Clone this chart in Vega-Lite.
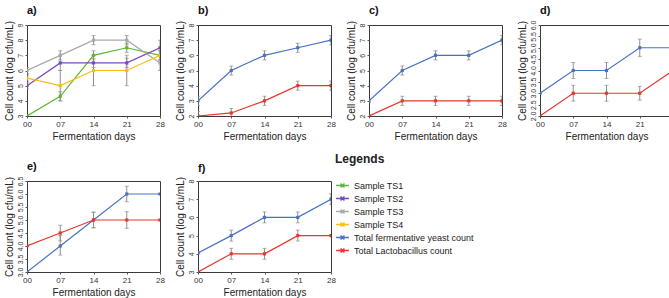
{
"$schema": "https://vega.github.io/schema/vega-lite/v6.json",
"padding": {"left": 3, "top": 4, "right": 0, "bottom": 0},
"datasets": {"rows": [
{"panel":"a","series":"Sample TS1","day":"00","value":3,"lo":3,"hi":3},
{"panel":"a","series":"Sample TS1","day":"07","value":4.3,"lo":4.0,"hi":4.6},
{"panel":"a","series":"Sample TS1","day":"14","value":7,"lo":6.7,"hi":7.3},
{"panel":"a","series":"Sample TS1","day":"21","value":7.5,"lo":7.2,"hi":7.8},
{"panel":"a","series":"Sample TS1","day":"28","value":7,"lo":6.7,"hi":7.3},
{"panel":"a","series":"Sample TS2","day":"00","value":5,"lo":4.8,"hi":5.2},
{"panel":"a","series":"Sample TS2","day":"07","value":6.5,"lo":6.0,"hi":7.0},
{"panel":"a","series":"Sample TS2","day":"14","value":6.5,"lo":6.2,"hi":6.8},
{"panel":"a","series":"Sample TS2","day":"21","value":6.5,"lo":6.2,"hi":6.8},
{"panel":"a","series":"Sample TS2","day":"28","value":7.5,"lo":7.0,"hi":8.0},
{"panel":"a","series":"Sample TS3","day":"00","value":6,"lo":5.8,"hi":6.2},
{"panel":"a","series":"Sample TS3","day":"07","value":7,"lo":6.7,"hi":7.3},
{"panel":"a","series":"Sample TS3","day":"14","value":8,"lo":7.7,"hi":8.3},
{"panel":"a","series":"Sample TS3","day":"21","value":8,"lo":7.7,"hi":8.3},
{"panel":"a","series":"Sample TS3","day":"28","value":6.5,"lo":6.0,"hi":7.0},
{"panel":"a","series":"Sample TS4","day":"00","value":5.5,"lo":5.3,"hi":5.7},
{"panel":"a","series":"Sample TS4","day":"07","value":5,"lo":4.0,"hi":6.0},
{"panel":"a","series":"Sample TS4","day":"14","value":6,"lo":5.0,"hi":7.0},
{"panel":"a","series":"Sample TS4","day":"21","value":6,"lo":5.0,"hi":7.0},
{"panel":"a","series":"Sample TS4","day":"28","value":7,"lo":6.7,"hi":7.3},
{"panel":"b","series":"Total fermentative yeast count","day":"00","value":3,"lo":2.7,"hi":3.3},
{"panel":"b","series":"Total fermentative yeast count","day":"07","value":5,"lo":4.7,"hi":5.3},
{"panel":"b","series":"Total fermentative yeast count","day":"14","value":6,"lo":5.7,"hi":6.3},
{"panel":"b","series":"Total fermentative yeast count","day":"21","value":6.5,"lo":6.2,"hi":6.8},
{"panel":"b","series":"Total fermentative yeast count","day":"28","value":7,"lo":6.7,"hi":7.3},
{"panel":"b","series":"Total Lactobacillus count","day":"00","value":2,"lo":1.7,"hi":2.3},
{"panel":"b","series":"Total Lactobacillus count","day":"07","value":2.2,"lo":1.9,"hi":2.5},
{"panel":"b","series":"Total Lactobacillus count","day":"14","value":3,"lo":2.7,"hi":3.3},
{"panel":"b","series":"Total Lactobacillus count","day":"21","value":4,"lo":3.7,"hi":4.3},
{"panel":"b","series":"Total Lactobacillus count","day":"28","value":4,"lo":3.7,"hi":4.3},
{"panel":"c","series":"Total fermentative yeast count","day":"00","value":3,"lo":2.9,"hi":3.1},
{"panel":"c","series":"Total fermentative yeast count","day":"07","value":5,"lo":4.7,"hi":5.3},
{"panel":"c","series":"Total fermentative yeast count","day":"14","value":6,"lo":5.7,"hi":6.3},
{"panel":"c","series":"Total fermentative yeast count","day":"21","value":6,"lo":5.7,"hi":6.3},
{"panel":"c","series":"Total fermentative yeast count","day":"28","value":7,"lo":6.7,"hi":7.3},
{"panel":"c","series":"Total Lactobacillus count","day":"00","value":2,"lo":2,"hi":2},
{"panel":"c","series":"Total Lactobacillus count","day":"07","value":3,"lo":2.7,"hi":3.3},
{"panel":"c","series":"Total Lactobacillus count","day":"14","value":3,"lo":2.7,"hi":3.3},
{"panel":"c","series":"Total Lactobacillus count","day":"21","value":3,"lo":2.7,"hi":3.3},
{"panel":"c","series":"Total Lactobacillus count","day":"28","value":3,"lo":2.7,"hi":3.3},
{"panel":"d","series":"Total fermentative yeast count","day":"00","value":3,"lo":3,"hi":3},
{"panel":"d","series":"Total fermentative yeast count","day":"07","value":4,"lo":3.65,"hi":4.35},
{"panel":"d","series":"Total fermentative yeast count","day":"14","value":4,"lo":3.65,"hi":4.35},
{"panel":"d","series":"Total fermentative yeast count","day":"21","value":5,"lo":4.62,"hi":5.38},
{"panel":"d","series":"Total fermentative yeast count","day":"28","value":5,"lo":5,"hi":5},
{"panel":"d","series":"Total Lactobacillus count","day":"00","value":2,"lo":2,"hi":2},
{"panel":"d","series":"Total Lactobacillus count","day":"07","value":3,"lo":2.65,"hi":3.35},
{"panel":"d","series":"Total Lactobacillus count","day":"14","value":3,"lo":2.65,"hi":3.35},
{"panel":"d","series":"Total Lactobacillus count","day":"21","value":3,"lo":2.7,"hi":3.3},
{"panel":"d","series":"Total Lactobacillus count","day":"28","value":4,"lo":4,"hi":4},
{"panel":"e","series":"Total fermentative yeast count","day":"00","value":3,"lo":3,"hi":3},
{"panel":"e","series":"Total fermentative yeast count","day":"07","value":4,"lo":3.65,"hi":4.4},
{"panel":"e","series":"Total fermentative yeast count","day":"14","value":5,"lo":4.7,"hi":5.3},
{"panel":"e","series":"Total fermentative yeast count","day":"21","value":6,"lo":5.7,"hi":6.3},
{"panel":"e","series":"Total fermentative yeast count","day":"28","value":6,"lo":6,"hi":6},
{"panel":"e","series":"Total Lactobacillus count","day":"00","value":4,"lo":4,"hi":4},
{"panel":"e","series":"Total Lactobacillus count","day":"07","value":4.5,"lo":4.2,"hi":4.8},
{"panel":"e","series":"Total Lactobacillus count","day":"14","value":5,"lo":4.7,"hi":5.3},
{"panel":"e","series":"Total Lactobacillus count","day":"21","value":5,"lo":4.68,"hi":5.32},
{"panel":"e","series":"Total Lactobacillus count","day":"28","value":5,"lo":5,"hi":5},
{"panel":"f","series":"Total fermentative yeast count","day":"00","value":4.05,"lo":4.05,"hi":4.05},
{"panel":"f","series":"Total fermentative yeast count","day":"07","value":5,"lo":4.7,"hi":5.3},
{"panel":"f","series":"Total fermentative yeast count","day":"14","value":6,"lo":5.7,"hi":6.3},
{"panel":"f","series":"Total fermentative yeast count","day":"21","value":6,"lo":5.7,"hi":6.3},
{"panel":"f","series":"Total fermentative yeast count","day":"28","value":7,"lo":6.7,"hi":7.3},
{"panel":"f","series":"Total Lactobacillus count","day":"00","value":3,"lo":3,"hi":3},
{"panel":"f","series":"Total Lactobacillus count","day":"07","value":4,"lo":3.7,"hi":4.3},
{"panel":"f","series":"Total Lactobacillus count","day":"14","value":4,"lo":3.7,"hi":4.3},
{"panel":"f","series":"Total Lactobacillus count","day":"21","value":5,"lo":4.7,"hi":5.3},
{"panel":"f","series":"Total Lactobacillus count","day":"28","value":5,"lo":5,"hi":5}
]},
"data": {"name": "rows"},
"columns": 4,
"spacing": {"column": 38, "row": 65},
"bounds": "flush",
"resolve": {"scale": {"color": "independent"}, "legend": {"color": "independent"}},
"concat": [
{"title": "a)", "width": 133, "height": 91,
 "transform": [{"filter": "datum.panel == 'a'"}],
 "encoding": {"x": {"field": "day", "type": "ordinal", "sort": null, "scale": {"type": "point", "padding": 0}, "axis": {"labelAngle": 0}, "title": "Fermentation days"}},
 "layer": [
  {"mark": {"type": "rule", "color": "#8f8f8f", "strokeWidth": 1, "clip": true}, "encoding": {"y": {"field": "lo", "type": "quantitative", "title": "Cell count (log cfu/mL)", "scale": {"domain": [3, 9], "nice": false, "zero": false}, "axis": {"values": [3,4,5,6,7,8,9]}}, "y2": {"field": "hi"}}},
  {"mark": {"type": "tick", "orient": "horizontal", "color": "#8f8f8f", "size": 4, "thickness": 1, "clip": true}, "encoding": {"y": {"field": "lo", "type": "quantitative", "title": "Cell count (log cfu/mL)", "axis": {"values": [3,4,5,6,7,8,9]}}}},
  {"mark": {"type": "tick", "orient": "horizontal", "color": "#8f8f8f", "size": 4, "thickness": 1, "clip": true}, "encoding": {"y": {"field": "hi", "type": "quantitative", "title": "Cell count (log cfu/mL)", "axis": {"values": [3,4,5,6,7,8,9]}}}},
  {"mark": {"type": "line", "strokeWidth": 1.2, "clip": true}, "encoding": {"y": {"field": "value", "type": "quantitative", "title": "Cell count (log cfu/mL)", "axis": {"values": [3,4,5,6,7,8,9]}}, "color": {"field": "series", "type": "nominal", "scale": {"domain": ["Sample TS1", "Sample TS2", "Sample TS3", "Sample TS4"], "range": ["#5eb534", "#7a48bd", "#a8a8a8", "#fbbd14"]}, "legend": null}}},
  {"mark": {"type": "point", "shape": "square", "filled": true, "size": 10, "opacity": 1, "clip": true}, "encoding": {"y": {"field": "value", "type": "quantitative", "title": "Cell count (log cfu/mL)", "axis": {"values": [3,4,5,6,7,8,9]}}, "color": {"field": "series", "type": "nominal", "legend": null}}}
 ]},
{"title": "b)", "width": 133, "height": 91,
 "transform": [{"filter": "datum.panel == 'b'"}],
 "encoding": {"x": {"field": "day", "type": "ordinal", "sort": null, "scale": {"type": "point", "padding": 0}, "axis": {"labelAngle": 0}, "title": "Fermentation days"}},
 "layer": [
  {"mark": {"type": "rule", "color": "#8f8f8f", "strokeWidth": 1, "clip": true}, "encoding": {"y": {"field": "lo", "type": "quantitative", "title": "Cell count (log cfu/mL)", "scale": {"domain": [2, 8], "nice": false, "zero": false}, "axis": {"values": [2,3,4,5,6,7,8]}}, "y2": {"field": "hi"}}},
  {"mark": {"type": "tick", "orient": "horizontal", "color": "#8f8f8f", "size": 4, "thickness": 1, "clip": true}, "encoding": {"y": {"field": "lo", "type": "quantitative", "title": "Cell count (log cfu/mL)", "axis": {"values": [2,3,4,5,6,7,8]}}}},
  {"mark": {"type": "tick", "orient": "horizontal", "color": "#8f8f8f", "size": 4, "thickness": 1, "clip": true}, "encoding": {"y": {"field": "hi", "type": "quantitative", "title": "Cell count (log cfu/mL)", "axis": {"values": [2,3,4,5,6,7,8]}}}},
  {"mark": {"type": "line", "strokeWidth": 1.2, "clip": true}, "encoding": {"y": {"field": "value", "type": "quantitative", "title": "Cell count (log cfu/mL)", "axis": {"values": [2,3,4,5,6,7,8]}}, "color": {"field": "series", "type": "nominal", "scale": {"domain": ["Total fermentative yeast count", "Total Lactobacillus count"], "range": ["#4a72c2", "#e8362e"]}, "legend": null}}},
  {"mark": {"type": "point", "shape": "square", "filled": true, "size": 10, "opacity": 1, "clip": true}, "encoding": {"y": {"field": "value", "type": "quantitative", "title": "Cell count (log cfu/mL)", "axis": {"values": [2,3,4,5,6,7,8]}}, "color": {"field": "series", "type": "nominal", "legend": null}}}
 ]},
{"title": "c)", "width": 133, "height": 91,
 "transform": [{"filter": "datum.panel == 'c'"}],
 "encoding": {"x": {"field": "day", "type": "ordinal", "sort": null, "scale": {"type": "point", "padding": 0}, "axis": {"labelAngle": 0}, "title": "Fermentation days"}},
 "layer": [
  {"mark": {"type": "rule", "color": "#8f8f8f", "strokeWidth": 1, "clip": true}, "encoding": {"y": {"field": "lo", "type": "quantitative", "title": "Cell count (log cfu/mL)", "scale": {"domain": [2, 8], "nice": false, "zero": false}, "axis": {"values": [2,3,4,5,6,7,8]}}, "y2": {"field": "hi"}}},
  {"mark": {"type": "tick", "orient": "horizontal", "color": "#8f8f8f", "size": 4, "thickness": 1, "clip": true}, "encoding": {"y": {"field": "lo", "type": "quantitative", "title": "Cell count (log cfu/mL)", "axis": {"values": [2,3,4,5,6,7,8]}}}},
  {"mark": {"type": "tick", "orient": "horizontal", "color": "#8f8f8f", "size": 4, "thickness": 1, "clip": true}, "encoding": {"y": {"field": "hi", "type": "quantitative", "title": "Cell count (log cfu/mL)", "axis": {"values": [2,3,4,5,6,7,8]}}}},
  {"mark": {"type": "line", "strokeWidth": 1.2, "clip": true}, "encoding": {"y": {"field": "value", "type": "quantitative", "title": "Cell count (log cfu/mL)", "axis": {"values": [2,3,4,5,6,7,8]}}, "color": {"field": "series", "type": "nominal", "scale": {"domain": ["Total fermentative yeast count", "Total Lactobacillus count"], "range": ["#4a72c2", "#e8362e"]}, "legend": null}}},
  {"mark": {"type": "point", "shape": "square", "filled": true, "size": 10, "opacity": 1, "clip": true}, "encoding": {"y": {"field": "value", "type": "quantitative", "title": "Cell count (log cfu/mL)", "axis": {"values": [2,3,4,5,6,7,8]}}, "color": {"field": "series", "type": "nominal", "legend": null}}}
 ]},
{"title": "d)", "width": 133, "height": 91,
 "transform": [{"filter": "datum.panel == 'd'"}],
 "encoding": {"x": {"field": "day", "type": "ordinal", "sort": null, "scale": {"type": "point", "padding": 0}, "axis": {"labelAngle": 0}, "title": "Fermentation days"}},
 "layer": [
  {"mark": {"type": "rule", "color": "#8f8f8f", "strokeWidth": 1, "clip": true}, "encoding": {"y": {"field": "lo", "type": "quantitative", "title": "Cell count (log cfu/mL)", "scale": {"domain": [2, 6], "nice": false, "zero": false}, "axis": {"values": [2,2.5,3,3.5,4,4.5,5,5.5,6]}}, "y2": {"field": "hi"}}},
  {"mark": {"type": "tick", "orient": "horizontal", "color": "#8f8f8f", "size": 4, "thickness": 1, "clip": true}, "encoding": {"y": {"field": "lo", "type": "quantitative", "title": "Cell count (log cfu/mL)", "axis": {"values": [2,2.5,3,3.5,4,4.5,5,5.5,6]}}}},
  {"mark": {"type": "tick", "orient": "horizontal", "color": "#8f8f8f", "size": 4, "thickness": 1, "clip": true}, "encoding": {"y": {"field": "hi", "type": "quantitative", "title": "Cell count (log cfu/mL)", "axis": {"values": [2,2.5,3,3.5,4,4.5,5,5.5,6]}}}},
  {"mark": {"type": "line", "strokeWidth": 1.2, "clip": true}, "encoding": {"y": {"field": "value", "type": "quantitative", "title": "Cell count (log cfu/mL)", "axis": {"values": [2,2.5,3,3.5,4,4.5,5,5.5,6]}}, "color": {"field": "series", "type": "nominal", "scale": {"domain": ["Total fermentative yeast count", "Total Lactobacillus count"], "range": ["#4a72c2", "#e8362e"]}, "legend": null}}},
  {"mark": {"type": "point", "shape": "square", "filled": true, "size": 10, "opacity": 1, "clip": true}, "encoding": {"y": {"field": "value", "type": "quantitative", "title": "Cell count (log cfu/mL)", "axis": {"values": [2,2.5,3,3.5,4,4.5,5,5.5,6]}}, "color": {"field": "series", "type": "nominal", "legend": null}}}
 ]},
{"title": "e)", "width": 133, "height": 91,
 "transform": [{"filter": "datum.panel == 'e'"}],
 "encoding": {"x": {"field": "day", "type": "ordinal", "sort": null, "scale": {"type": "point", "padding": 0}, "axis": {"labelAngle": 0}, "title": "Fermentation days"}},
 "layer": [
  {"mark": {"type": "rule", "color": "#8f8f8f", "strokeWidth": 1, "clip": true}, "encoding": {"y": {"field": "lo", "type": "quantitative", "title": "Cell count (log cfu/mL)", "scale": {"domain": [3, 6.5], "nice": false, "zero": false}, "axis": {"values": [3,3.5,4,4.5,5,5.5,6,6.5]}}, "y2": {"field": "hi"}}},
  {"mark": {"type": "tick", "orient": "horizontal", "color": "#8f8f8f", "size": 4, "thickness": 1, "clip": true}, "encoding": {"y": {"field": "lo", "type": "quantitative", "title": "Cell count (log cfu/mL)", "axis": {"values": [3,3.5,4,4.5,5,5.5,6,6.5]}}}},
  {"mark": {"type": "tick", "orient": "horizontal", "color": "#8f8f8f", "size": 4, "thickness": 1, "clip": true}, "encoding": {"y": {"field": "hi", "type": "quantitative", "title": "Cell count (log cfu/mL)", "axis": {"values": [3,3.5,4,4.5,5,5.5,6,6.5]}}}},
  {"mark": {"type": "line", "strokeWidth": 1.2, "clip": true}, "encoding": {"y": {"field": "value", "type": "quantitative", "title": "Cell count (log cfu/mL)", "axis": {"values": [3,3.5,4,4.5,5,5.5,6,6.5]}}, "color": {"field": "series", "type": "nominal", "scale": {"domain": ["Total fermentative yeast count", "Total Lactobacillus count"], "range": ["#4a72c2", "#e8362e"]}, "legend": null}}},
  {"mark": {"type": "point", "shape": "square", "filled": true, "size": 10, "opacity": 1, "clip": true}, "encoding": {"y": {"field": "value", "type": "quantitative", "title": "Cell count (log cfu/mL)", "axis": {"values": [3,3.5,4,4.5,5,5.5,6,6.5]}}, "color": {"field": "series", "type": "nominal", "legend": null}}}
 ]},
{"title": {"text": "f)", "offset": -20}, "width": 133, "height": 91,
 "transform": [{"filter": "datum.panel == 'f'"}],
 "encoding": {"x": {"field": "day", "type": "ordinal", "sort": null, "scale": {"type": "point", "padding": 0}, "axis": {"labelAngle": 0}, "title": "Fermentation days"}},
 "layer": [
  {"mark": {"type": "rule", "color": "#8f8f8f", "strokeWidth": 1, "clip": true}, "encoding": {"y": {"field": "lo", "type": "quantitative", "title": "Cell count (log cfu/mL)", "scale": {"domain": [3, 8], "nice": false, "zero": false}, "axis": {"values": [3,4,5,6,7,8]}}, "y2": {"field": "hi"}}},
  {"mark": {"type": "tick", "orient": "horizontal", "color": "#8f8f8f", "size": 4, "thickness": 1, "clip": true}, "encoding": {"y": {"field": "lo", "type": "quantitative", "title": "Cell count (log cfu/mL)", "axis": {"values": [3,4,5,6,7,8]}}}},
  {"mark": {"type": "tick", "orient": "horizontal", "color": "#8f8f8f", "size": 4, "thickness": 1, "clip": true}, "encoding": {"y": {"field": "hi", "type": "quantitative", "title": "Cell count (log cfu/mL)", "axis": {"values": [3,4,5,6,7,8]}}}},
  {"mark": {"type": "line", "strokeWidth": 1.2, "clip": true}, "encoding": {"y": {"field": "value", "type": "quantitative", "title": "Cell count (log cfu/mL)", "axis": {"values": [3,4,5,6,7,8]}}, "color": {"field": "series", "type": "nominal", "scale": {"domain": ["Sample TS1", "Sample TS2", "Sample TS3", "Sample TS4", "Total fermentative yeast count", "Total Lactobacillus count"], "range": ["#5eb534", "#7a48bd", "#a8a8a8", "#fbbd14", "#4a72c2", "#e8362e"]}, "legend": {"orient": "none", "legendX": 137, "legendY": -27, "title": "\u00a0\u00a0\u00a0Legends", "symbolType": "M-1,0L1,0M-0.3,-0.3L0.3,0.3M-0.3,0.3L0.3,-0.3"}}}},
  {"mark": {"type": "point", "shape": "square", "filled": true, "size": 10, "opacity": 1, "clip": true}, "encoding": {"y": {"field": "value", "type": "quantitative", "title": "Cell count (log cfu/mL)", "axis": {"values": [3,4,5,6,7,8]}}, "color": {"field": "series", "type": "nominal", "legend": {"orient": "none", "legendX": 137, "legendY": -27, "title": "\u00a0\u00a0\u00a0Legends", "symbolType": "M-1,0L1,0M-0.3,-0.3L0.3,0.3M-0.3,0.3L0.3,-0.3"}}}}
 ]}
],
"config": {
 "font": "Liberation Sans",
 "view": {"stroke": "#3a3a3a", "strokeWidth": 1},
 "axis": {"grid": false, "domain": false, "tickSize": 2, "tickColor": "#555", "labelFontSize": 8, "labelColor": "#333", "titleFontSize": 10, "titleFontWeight": "normal", "titleColor": "#222", "labelOverlap": false},
 "axisY": {"labelAngle": 270, "titlePadding": 2, "labelPadding": 2, "labelFontSize": 7},
 "axisX": {"labelPadding": 2, "titlePadding": 3},
 "title": {"fontSize": 11, "fontWeight": "bold", "anchor": "start", "frame": "group", "offset": 4, "dx": 0, "color": "#111"},
 "legend": {"titleFontSize": 12, "titleFontWeight": "bold", "titleColor": "#222", "titlePadding": 12, "labelFontSize": 9, "labelColor": "#222", "labelOffset": 4, "rowPadding": 0, "symbolSize": 164, "symbolStrokeWidth": 1.4}
}
}
